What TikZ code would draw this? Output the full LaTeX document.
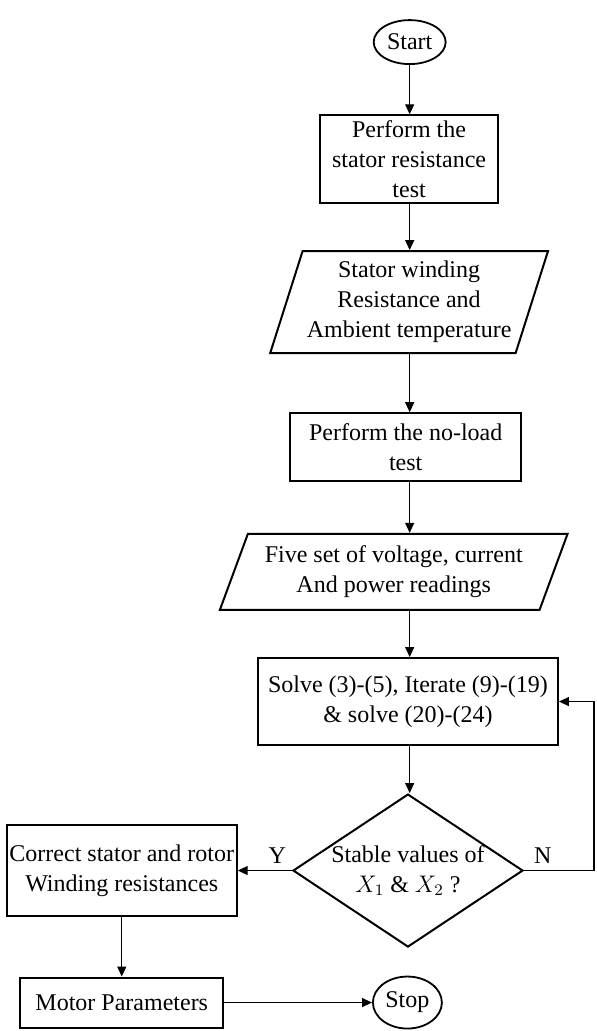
\documentclass[tikz,border=0pt]{standalone}
\usepackage{fontspec}
\setmainfont{Liberation Serif}
\usepackage{tikz}
\usetikzlibrary{shapes.geometric, arrows.meta}

\tikzset{
    procbox/.style={draw, line width=1pt, align=center, inner xsep=1pt, inner ysep=2pt},
    iobox/.style={draw, line width=1pt, trapezium, trapezium stretches=true, align=center, inner xsep=0pt, inner ysep=-6pt},
    termnode/.style={draw, ellipse, line width=0.9pt, inner sep=0pt},
    decisionnode/.style={draw, diamond, shape aspect=1.5, line width=1pt, align=center, inner xsep=0pt, inner ysep=-2pt},
    flowarrow/.style={-{Triangle[length=5pt, width=4.5pt]}, line width=0.6pt}
}

\begin{document}
\begin{tikzpicture}[font=\fontsize{12pt}{15pt}\selectfont]
    % Frame
    \useasboundingbox (0,0) rectangle (10.49,18.12);
    % Terminals
    \node[termnode, minimum width=36pt, minimum height=22pt] (start) at (7.20,17.38) {Start};
    \node[termnode, minimum width=34.5pt, minimum height=26pt] (stop) at (7.16,0.50) {Stop};
    % Processes
    \node[procbox, minimum width=89pt, minimum height=44pt] (statortest) at (7.19,15.32) {Perform the\\stator resistance\\test};
    \node[procbox, minimum width=115.5pt, minimum height=34pt] (noloadtest) at (7.13,10.26) {Perform the no-load\\test};
    \node[procbox, minimum width=150pt, minimum height=43.5pt] (solve) at (7.17,5.79) {Solve (3)-(5), Iterate (9)-(19)\\\& solve (20)-(24)};
    \node[procbox, minimum width=115pt, minimum height=45.5pt] (correctres) at (2.14,2.82) {Correct stator and rotor\\Winding resistances};
    \node[procbox, minimum width=101.5pt, minimum height=25pt] (motorparams) at (2.14,0.50) {Motor Parameters};
    % Data
    \node[iobox, trapezium left angle=61.7, trapezium right angle=118.3, minimum width=139pt, minimum height=51pt] (statordata) at (7.19,12.81) {Stator winding\\Resistance and\\Ambient temperature};
    \node[iobox, trapezium left angle=48.6, trapezium right angle=131.4, minimum width=174pt, minimum height=38pt] (readings) at (6.92,8.07) {Five set of voltage, current\\And power readings};
    % Decision
    \node[decisionnode, minimum width=115pt, minimum height=76.5pt] (stablecheck) at (7.17,2.82) {Stable values of\\$X_1$ \& $X_2$ ?};
    \coordinate (loopright) at (10.44,2.82);
    % Main column lines
    \draw[flowarrow] (start.south -| start) -- (statortest.north -| start);
    \draw[flowarrow] (statortest.south -| start) -- (statordata.north -| start);
    \draw[flowarrow] (statordata.south -| start) -- (noloadtest.north -| start);
    \draw[flowarrow] (noloadtest.south -| start) -- (readings.north -| start);
    \draw[flowarrow] (readings.south -| start) -- (solve.north -| start);
    \draw[flowarrow] (solve.south -| start) -- (stablecheck.north -| start);
    % Decision lines
    \draw[flowarrow] (stablecheck) -- node[above, pos=0.27]{Y} (correctres);
    \draw[flowarrow] (stablecheck.east) -- node[above, pos=0.27]{N} (loopright) |- (solve.east);
    % Output lines
    \draw[flowarrow] (correctres) -- (motorparams);
    \draw[flowarrow] (motorparams) -- (stop);
\end{tikzpicture}
\end{document}
